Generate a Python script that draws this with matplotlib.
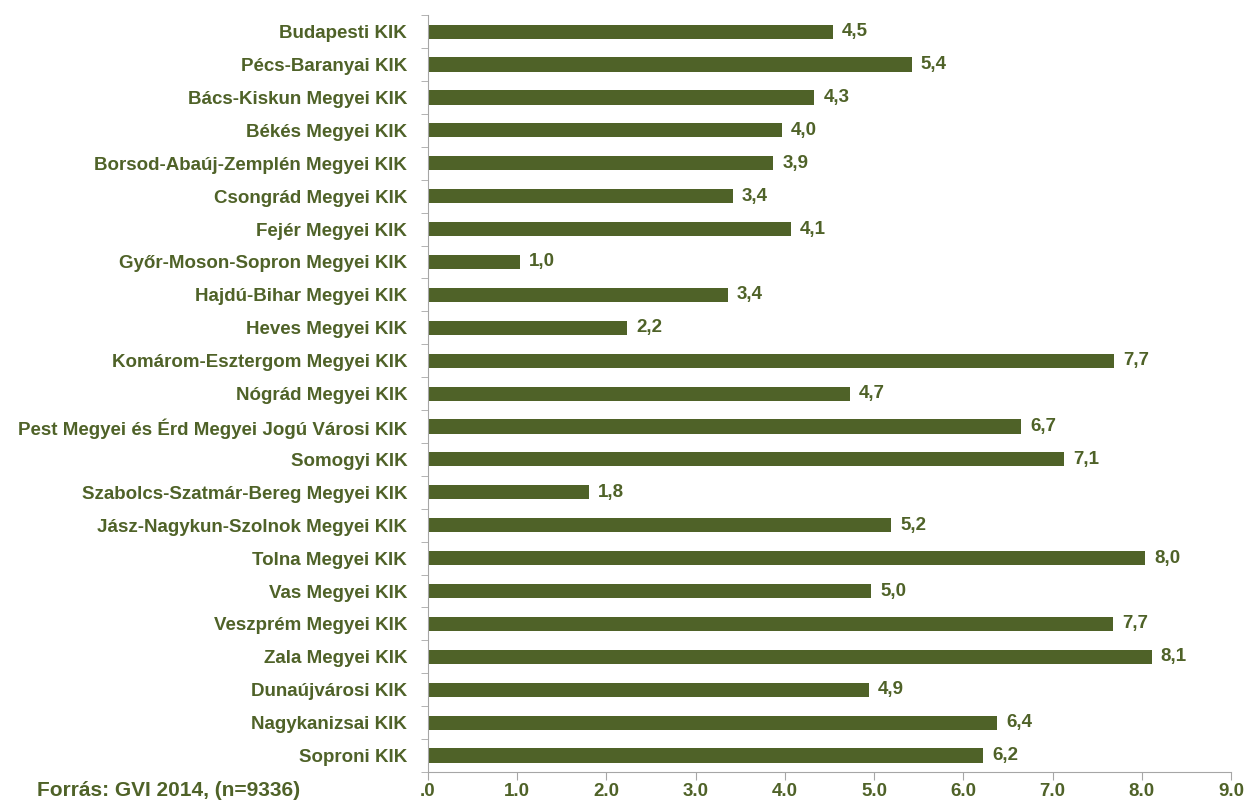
import matplotlib.pyplot as plt
import numpy as np

# Categories and values (top to bottom)
labels = ['Budapesti KIK', 'Pécs-Baranyai KIK', 'Bács-Kiskun Megyei KIK', 'Békés Megyei KIK',
          'Borsod-Abaúj-Zemplén Megyei KIK', 'Csongrád Megyei KIK', 'Fejér Megyei KIK',
          'Győr-Moson-Sopron Megyei KIK', 'Hajdú-Bihar Megyei KIK', 'Heves Megyei KIK',
          'Komárom-Esztergom Megyei KIK', 'Nógrád Megyei KIK',
          'Pest Megyei és Érd Megyei Jogú Városi KIK', 'Somogyi KIK',
          'Szabolcs-Szatmár-Bereg Megyei KIK', 'Jász-Nagykun-Szolnok Megyei KIK',
          'Tolna Megyei KIK', 'Vas Megyei KIK', 'Veszprém Megyei KIK', 'Zala Megyei KIK',
          'Dunaújvárosi KIK', 'Nagykanizsai KIK', 'Soproni KIK']
values = [4.54, 5.42, 4.33, 3.97, 3.87, 3.42, 4.07, 1.03, 3.36, 2.23, 7.69, 4.73, 6.65,
          7.13, 1.80, 5.19, 8.04, 4.97, 7.68, 8.11, 4.94, 6.38, 6.22]
xticks = [0, 1, 2, 3, 4, 5, 6, 7, 8, 9]
xtick_labels = ['.0', '1.0', '2.0', '3.0', '4.0', '5.0', '6.0', '7.0', '8.0', '9.0']

green = '#4F6228'
gray = '#A6A6A6'
plt.rcParams['font.family'] = ['Liberation Sans', 'DejaVu Sans']

fig = plt.figure(figsize=(12.46, 8), dpi=100)
ax = fig.add_axes([0.3435, 0.035, 0.6445, 0.946])

y = np.arange(len(labels))
ax.barh(y, values, height=0.43, color=green)
for yi, v in zip(y, values):
    ax.text(v + 0.1, yi, f'{v:.1f}'.replace('.', ','), va='center', ha='left',
            fontsize=13.5, fontweight='bold', color=green)

ax.set_ylim(len(labels) - 0.5, -0.5)
ax.set_xlim(0, 9)
ax.set_yticks(y)
ax.set_yticklabels(labels, fontsize=13.5, fontweight='bold', color=green)
ax.set_yticks(np.arange(len(labels) + 1) - 0.5, minor=True)
ax.tick_params(axis='y', which='major', length=0, pad=15)
ax.tick_params(axis='y', which='minor', length=5, color=gray, direction='out')
ax.set_xticks(xticks)
ax.set_xticklabels(xtick_labels, fontsize=13.5, fontweight='bold', color=green)
ax.tick_params(axis='x', length=6, color=gray, direction='out', pad=2)

for s in ['top', 'right']:
    ax.spines[s].set_visible(False)
for s in ['left', 'bottom']:
    ax.spines[s].set_color(gray)

fig.text(0.03, 0.005, 'Forrás: GVI 2014, (n=9336)', fontsize=15, fontweight='bold', color=green)

fig.savefig('out.png', dpi=100)
